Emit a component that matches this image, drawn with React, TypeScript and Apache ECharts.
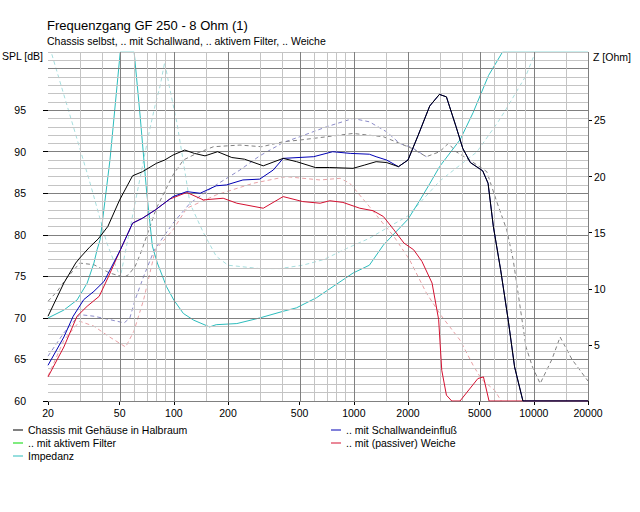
import React, { useEffect, useRef } from "react";
import * as echarts from "echarts";

// ---------- data (frequency in Hz, SPL in dB, impedance in Ohm) ----------
const chassisFreq = [20, 24.5, 28.5, 30, 34, 38, 43, 50, 59, 67, 80, 89, 99, 115, 130, 149, 175, 210, 247, 314, 405, 481, 611, 735, 990, 1150, 1330, 1520, 1770, 2000, 2280, 2640, 2990, 3270, 3700, 4030, 4440, 5200, 5570, 5960, 6540, 7200, 7820, 8700, 20000];
const chassisSpl = [70.2, 74.2, 76.6, 77.2, 78.5, 79.5, 81.0, 84.2, 87.1, 87.6, 88.6, 89.0, 89.6, 90.2, 89.8, 89.5, 90.0, 89.3, 89.1, 88.3, 89.2, 88.8, 88.1, 88.1, 88.0, 88.4, 88.8, 88.7, 88.2, 89.0, 92.0, 95.5, 96.9, 96.6, 93.0, 90.4, 88.7, 87.7, 86.2, 81.0, 75.8, 69.8, 64.1, 60, 60];

const baffleLowFreq = [20, 24.5, 27.6, 31.6, 36, 41, 50.5, 59, 67, 79, 99, 118, 140, 172, 196, 242, 300, 357, 405, 598, 763, 955, 1220, 1330, 1520, 1770];
const baffleLowSpl = [64.3, 67.7, 70.2, 72.2, 73.2, 74.4, 78.2, 81.4, 82.0, 83.0, 84.6, 85.2, 85.0, 85.9, 86.0, 86.6, 86.7, 87.8, 89.2, 89.4, 90.0, 89.8, 89.7, 89.4, 89.0, 88.2];

const activeFreq: number[] = [];
const activeSpl: number[] = [];

const passiveFreq = [20, 24.5, 29, 33, 38.5, 43, 50.5, 59, 67, 79, 95, 118, 146, 188, 224, 314, 405, 520, 650, 735, 870, 1080, 1280, 1460, 1670, 1900, 2150, 2390, 2720, 2960, 3080, 3270, 3500, 3890, 4890, 5250, 5640, 20000];
const passiveSpl = [62.9, 66.5, 70.2, 71.4, 72.6, 74.8, 78.2, 81.4, 82.0, 83.0, 84.3, 85.1, 84.2, 84.4, 83.8, 83.2, 84.6, 84.0, 83.8, 84.1, 83.9, 83.2, 82.9, 82.2, 80.6, 79.0, 78.2, 76.8, 74.2, 69.8, 63.7, 60.7, 60, 60, 62.7, 62.9, 60, 60];

const impFreq = [20, 24.5, 29, 33, 36, 37.5, 39, 44.2, 50.4, 60.2, 65, 70.5, 76, 81, 91, 100, 113, 129, 158, 172, 224, 300, 406, 480, 620, 800, 990, 1220, 1460, 2000, 2330, 2650, 3000, 3900, 4600, 5600, 6700, 20000];
const impOhm = [7.4, 8.1, 9.0, 10.5, 12.3, 13.5, 14.4, 21.5, 31.1, 31.1, 25.4, 18.8, 13.8, 12.3, 10.2, 9.0, 7.8, 7.2, 6.6, 6.8, 6.9, 7.4, 8.0, 8.3, 9.2, 10.4, 11.4, 12.1, 13.9, 16.2, 17.9, 19.4, 20.9, 23.3, 25.7, 29.0, 31.1, 31.1];

// comparison curves (dashed)
const chassis2Freq = [20, 22.5, 25, 30, 36, 44, 53, 56, 61, 66, 80, 99, 113, 134, 166, 233, 308, 405, 500, 706, 990, 1460, 1800, 2100, 2530, 3000, 3350, 3700, 4400, 5480, 6220, 7070, 7680, 8330, 9050, 9830, 10850, 12600, 14000, 16300, 20000];
const chassis2Spl = [72.0, 73.2, 74.6, 76.6, 76.4, 75.4, 74.9, 75.2, 76.2, 78.0, 83.2, 87.2, 89.0, 89.8, 90.6, 90.8, 90.6, 91.2, 91.4, 91.8, 92.2, 91.8, 91.0, 90.4, 89.4, 90.0, 91.0, 90.0, 89.0, 87.6, 84.0, 80.6, 77.0, 71.8, 66.5, 64.1, 62.1, 65.0, 67.7, 65.0, 62.4];

const baffle2Freq = [20, 24.5, 30, 36, 44, 53, 57, 61, 68, 78, 99, 123, 166, 233, 300, 405, 500, 706, 990, 1220, 1520, 1800, 2100, 2530];
const baffle2Spl = [65.4, 68.2, 70.4, 70.2, 69.8, 69.4, 70.0, 72.2, 75.0, 78.2, 81.4, 83.8, 85.8, 87.8, 89.5, 91.1, 91.8, 93.0, 94.0, 93.6, 92.4, 91.0, 90.5, 89.4];

const passive2Freq = [20, 24.5, 30, 36, 44, 54, 60, 68, 79, 99, 118, 172, 276, 420, 650, 840, 950, 1220, 1400, 1670, 2040, 2530, 3050, 3900, 4600, 5130, 6050, 6600];
const passive2Spl = [63.0, 67.3, 69.6, 69.0, 67.7, 66.5, 68.4, 72.2, 78.2, 80.6, 83.2, 84.8, 86.2, 87.0, 86.6, 86.8, 86.2, 83.4, 81.8, 79.8, 77.0, 73.0, 70.3, 67.3, 64.3, 62.6, 61.3, 60.0];

const imp2Freq = [21, 27.6, 34.3, 42.4, 50.4, 73.5, 78.6, 84, 89, 95, 104, 113, 123, 146, 172, 200, 300, 388, 520, 680, 914, 1220, 1520, 2000, 3000, 4830, 6350, 7070, 9050, 10200];
const imp2Ohm = [30.9, 24.5, 19.4, 14.1, 11.0, 24.2, 26.3, 28.1, 30.2, 27.8, 24.8, 21.3, 17.6, 15.0, 12.9, 12.1, 11.8, 11.8, 12.1, 12.6, 13.6, 14.5, 15.4, 16.5, 19.6, 22.2, 24.9, 26.1, 29.0, 31.1];

// axes
const xLabelFreqs = [20, 50, 100, 200, 500, 1000, 2000, 5000, 10000, 20000];
const gridMultipliers = [1, 1.5, 2, 3, 4, 5, 6, 7, 8, 9];
const gridDecades = [10, 100, 1000, 10000];
const splLabels = [60, 65, 70, 75, 80, 85, 90, 95];
const zLabels = [5, 10, 15, 20, 25];
const SPL_MIN = 60;
const SPL_MAX = 102;
const Z_MIN = 0;
const Z_MAX = 31.1;
const F_MIN = 20;
const F_MAX = 20000;

const legendNames = {
  chassis: "Chassis mit Gehäuse in Halbraum",
  baffle: ".. mit Schallwandeinfluß",
  active: ".. mit aktivem Filter",
  passive: ".. mit (passiver) Weiche",
  imp: "Impedanz",
};

// ---------- helpers ----------
const lg = (f: number) => Math.log10(f);
const pairs = (fs: number[], vs: number[]) => fs.map((f, i) => [lg(f), vs[i]]);

const FONT = "'Liberation Sans', Arial, sans-serif";
const MAJOR = "#808080";
const MINOR = "#c4c4c4";

function buildOption() {
  const baffleFreq = baffleLowFreq.concat(chassisFreq.filter((f) => f >= 2000));
  const baffleSpl = baffleLowSpl.concat(chassisSpl.filter((_, i) => chassisFreq[i] >= 2000));

  const gridFreqs: number[] = [];
  gridDecades.forEach((d) =>
    gridMultipliers.forEach((m) => {
      const f = Math.round(d * m);
      if (f >= F_MIN && f <= F_MAX) gridFreqs.push(f);
    })
  );
  gridFreqs.push(F_MAX);

  const hLines: any[] = [];
  for (let v = SPL_MIN; v <= SPL_MAX; v++) {
    hLines.push({ yAxis: v, lineStyle: { color: v % 5 === 0 ? MAJOR : MINOR } });
  }
  const vLines = gridFreqs.map((f) => ({
    xAxis: lg(f),
    lineStyle: { color: xLabelFreqs.includes(f) ? MAJOR : MINOR },
  }));

  const solid = (name: string, color: string, data: number[][], yAxisIndex: number, z: number) => ({
    name,
    type: "line",
    data,
    yAxisIndex,
    z,
    showSymbol: false,
    symbol: "none",
    smooth: false,
    itemStyle: { color },
    lineStyle: { color, width: 1 },
    emphasis: { disabled: true },
  });
  const dashed = (name: string, color: string, data: number[][], yAxisIndex: number) => ({
    name,
    type: "line",
    data,
    yAxisIndex,
    z: 3,
    showSymbol: false,
    symbol: "none",
    itemStyle: { color },
    lineStyle: { color, width: 1, type: [4, 3] },
    emphasis: { disabled: true },
  });

  const textStyle = { fontFamily: FONT, fontSize: 10.5, color: "#000" };
  const legendBase = {
    top: 424,
    orient: "vertical",
    padding: 0,
    itemGap: 1,
    itemWidth: 10,
    itemHeight: 1,
    icon: "rect",
    selectedMode: false,
    textStyle: { ...textStyle, lineHeight: 12 },
  };

  return {
    animation: false,
    backgroundColor: "#ffffff",
    textStyle: { fontFamily: FONT },
    title: {
      text: "Frequenzgang GF 250 - 8 Ohm (1)",
      subtext: "Chassis selbst, .. mit Schallwand, .. aktivem Filter, .. Weiche",
      left: 47,
      top: 17,
      padding: 0,
      itemGap: 2,
      textStyle: { fontFamily: FONT, fontSize: 13, fontWeight: "normal", color: "#000", lineHeight: 16 },
      subtextStyle: { fontFamily: FONT, fontSize: 10.5, color: "#000", lineHeight: 12 },
    },
    legend: [
      { ...legendBase, left: 13, data: [legendNames.chassis, legendNames.active, legendNames.imp] },
      { ...legendBase, left: 331, data: [legendNames.baffle, legendNames.passive] },
    ],
    graphic: [
      {
        type: "text",
        x: 43,
        y: 56,
        style: { text: "SPL [dB]", font: `10.5px ${FONT}`, fill: "#000", align: "right", verticalAlign: "middle" },
      },
      {
        type: "text",
        x: 593,
        y: 57,
        style: { text: "Z [Ohm]", font: `10.5px ${FONT}`, fill: "#000", align: "left", verticalAlign: "middle" },
      },
    ],
    grid: { left: 48, right: 52, top: 52, bottom: 111, containLabel: false },
    xAxis: {
      type: "value",
      min: lg(F_MIN),
      max: lg(F_MAX),
      splitLine: { show: false },
      axisLine: { show: true, lineStyle: { color: "#202020", width: 1 } },
      axisTick: { show: true, length: 4, customValues: xLabelFreqs.map(lg), lineStyle: { color: "#000" } },
      axisLabel: {
        customValues: xLabelFreqs.map(lg),
        formatter: (v: number) => String(Math.round(Math.pow(10, v))),
        margin: 6,
        ...textStyle,
      },
    },
    yAxis: [
      {
        type: "value",
        min: SPL_MIN,
        max: SPL_MAX,
        position: "left",
        splitLine: { show: false },
        axisLine: { show: false },
        axisTick: { show: true, length: 5, customValues: splLabels, lineStyle: { color: "#000" } },
        axisLabel: { customValues: splLabels, margin: 22, ...textStyle },
      },
      {
        type: "value",
        min: Z_MIN,
        max: Z_MAX,
        position: "right",
        splitLine: { show: false },
        axisLine: { show: false },
        axisTick: { show: true, length: 4, customValues: zLabels, lineStyle: { color: "#000" } },
        axisLabel: { customValues: zLabels, margin: 6, ...textStyle },
      },
    ],
    series: [
      {
        name: "grid",
        type: "line",
        data: [],
        z: 1,
        silent: true,
        markLine: {
          silent: true,
          symbol: ["none", "none"],
          label: { show: false },
          emphasis: { disabled: true },
          lineStyle: { type: "solid", width: 1 },
          data: [...hLines, ...vLines],
        },
      },
      dashed("Impedanz (2)", "#a6dede", pairs(imp2Freq, imp2Ohm), 1),
      dashed("Weiche (2)", "#e8a0a4", pairs(passive2Freq, passive2Spl), 0),
      dashed("Schallwand (2)", "#8a8ac8", pairs(baffle2Freq, baffle2Spl), 0),
      dashed("Chassis (2)", "#808080", pairs(chassis2Freq, chassis2Spl), 0),
      solid(legendNames.imp, "#2cbcbc", pairs(impFreq, impOhm), 1, 4),
      solid(legendNames.active, "#00d800", pairs(activeFreq, activeSpl), 0, 4),
      solid(legendNames.passive, "#d41030", pairs(passiveFreq, passiveSpl), 0, 5),
      solid(legendNames.baffle, "#0000b4", pairs(baffleFreq, baffleSpl), 0, 6),
      solid(legendNames.chassis, "#000000", pairs(chassisFreq, chassisSpl), 0, 7),
    ],
  };
}

export default function App() {
  const ref = useRef<HTMLDivElement>(null);
  useEffect(() => {
    if (!ref.current) return;
    const chart = echarts.init(ref.current, undefined, { renderer: "svg" });
    chart.setOption(buildOption() as any);
    return () => chart.dispose();
  }, []);
  return (
    <div
      ref={ref}
      style={{ position: "fixed", left: 0, top: 0, width: 640, height: 512, background: "#fff" }}
    />
  );
}
